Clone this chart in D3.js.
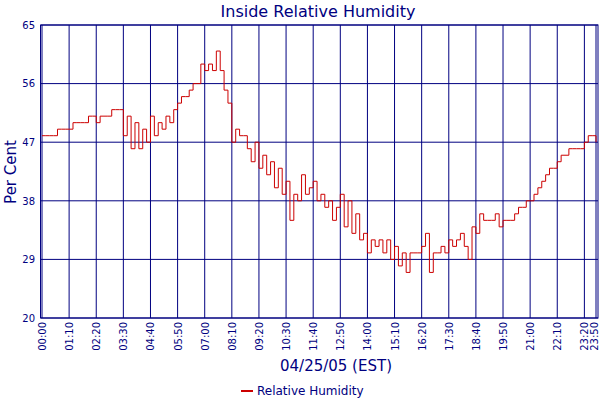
<!DOCTYPE html>
<html><head><meta charset="utf-8">
<script src="https://cdn.jsdelivr.net/npm/d3@7"></script>
<style>body{margin:0;background:#fff}text{font-family:"DejaVu Sans",Verdana,sans-serif}</style>
</head><body><svg id="chart" width="600" height="400"></svg>
<script>
// readings every 10 minutes, 00:00 .. 23:50
const minutes = d3.range(0, 1440, 10);
const humidity = [
  48,48,48,48,49,49, 49,49,50,50,50,50, 51,51,50,51,51,51,
  52,52,52,48,51,46, 50,46,49,47,51,48, 50,49,51,50,52,53,
  54,54,55,56,56,59, 58,59,58,61,58,55, 53,47,49,48,48,46,
  44,47,43,45,42,44, 40,43,39,41,35,39, 38,42,39,40,41,38,
  39,37,38,35,37,39, 34,38,33,36,32,33, 30,32,31,32,30,32,
  29,31,28,30,27,30, 30,30,31,33,27,30, 30,31,30,32,31,32,
  33,31,29,34,33,36, 35,35,35,36,34,35, 35,35,36,37,37,38,
  38,39,40,41,42,43, 43,44,45,45,46,46, 46,46,47,48,48,47
];
const xTicks = d3.range(0, 1440, 70).concat([1430]);
const yTicks = [20, 29, 38, 47, 56, 65];
const navy = "#000080";

const svg = d3.select("#chart");
const x = d3.scaleLinear().domain([0, 1430]).range([42, 596]);
const y = d3.scaleLinear().domain([20, 65]).range([318, 25]);

const fmt = m => String(Math.floor(m / 60)).padStart(2, "0") + ":" + String(m % 60).padStart(2, "0");

// grid
svg.append("g").selectAll("line").data(xTicks).join("line")
  .attr("x1", d => x(d)).attr("x2", d => x(d)).attr("y1", 25).attr("y2", 318)
  .attr("stroke", navy).attr("stroke-width", 1);
svg.append("g").selectAll("line").data(yTicks).join("line")
  .attr("x1", 41).attr("x2", 598).attr("y1", d => y(d)).attr("y2", d => y(d))
  .attr("stroke", navy).attr("stroke-width", 1);
svg.append("rect").attr("x", 40.5).attr("y", 25).attr("width", 557.5).attr("height", 293)
  .attr("fill", "none").attr("stroke", navy);

// axes labels
const xAxis = svg.append("g").attr("transform", "translate(0,318)")
  .call(d3.axisBottom(x).tickValues(xTicks).tickFormat(fmt).tickSize(0));
xAxis.select(".domain").remove();
xAxis.selectAll("text").attr("transform", "rotate(-90)").attr("text-anchor", "end")
  .attr("x", -4).attr("y", 0).attr("dy", "0.35em")
  .attr("fill", navy).style("font-size", "10px");
xAxis.selectAll(".tick").filter(d => d === 1430).select("text").attr("y", -2);

const yAxis = svg.append("g").attr("transform", "translate(38,0)")
  .call(d3.axisLeft(y).tickValues(yTicks).tickSize(0));
yAxis.select(".domain").remove();
yAxis.selectAll("text").attr("x", -3).attr("fill", navy).style("font-size", "10px");

// series
const line = d3.line().x((d, i) => x(minutes[i])).y(d => y(d)).curve(d3.curveStepAfter);
svg.append("path").datum(humidity).attr("d", line)
  .attr("fill", "none").attr("stroke", "#cc0000").attr("stroke-width", 1);

// titles
svg.append("text").attr("x", 318).attr("y", 17).attr("text-anchor", "middle")
  .attr("fill", navy).style("font-size", "16px").text("Inside Relative Humidity");
svg.append("text").attr("x", 336).attr("y", 371).attr("text-anchor", "middle")
  .attr("fill", navy).style("font-size", "15px").text("04/25/05 (EST)");
svg.append("text").attr("transform", "translate(16,172) rotate(-90)").attr("text-anchor", "middle")
  .attr("fill", navy).style("font-size", "15px").text("Per Cent");

// legend
svg.append("line").attr("x1", 241).attr("x2", 253).attr("y1", 391).attr("y2", 391)
  .attr("stroke", "#cc0000").attr("stroke-width", 2);
svg.append("text").attr("x", 257).attr("y", 395).attr("fill", navy)
  .style("font-size", "12px").text("Relative Humidity");
</script></body></html>
